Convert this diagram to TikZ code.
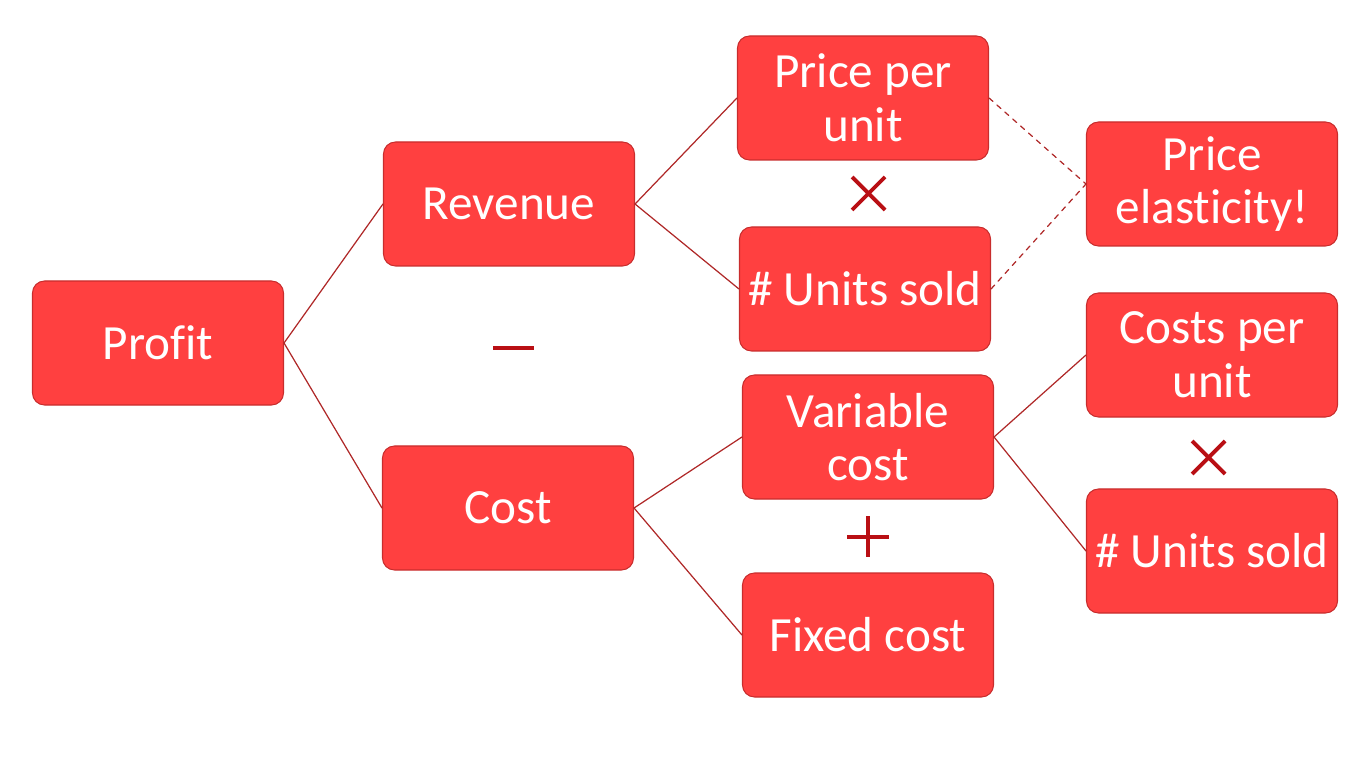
\documentclass[tikz,border=0pt]{standalone}
\usepackage{fontspec}
\setmainfont[Ligatures=NoCommon]{Carlito}

\definecolor{boxfill}{RGB}{255,64,64}
\definecolor{boxline}{RGB}{200,45,45}
\definecolor{linkred}{RGB}{175,40,40}
\definecolor{opred}{RGB}{185,15,20}

\begin{document}
\begin{tikzpicture}[x=0.2mm, y=-0.2mm, line cap=round, line join=round,
    factor/.style={draw=boxline, line width=0.6pt, fill=boxfill, rounded corners=2.4mm,
      minimum width=50.2mm, minimum height=24.8mm, inner sep=0pt, align=center,
      text=white, font=\fontsize{28}{30.5}\selectfont},
    link/.style={draw=linkred, line width=0.7pt},
    opline/.style={draw=opred, line width=2.2pt, line cap=butt}]
  \useasboundingbox (0,0) rectangle (1363,765);
  % Left column.
  \node[factor] (profit) at (158,343) {Profit};
  % Second column.
  \node[factor] (revenue) at (509,204) {Revenue};
  \node[factor] (cost) at (508,508) {Cost};
  % Third column.
  \node[factor] (price) at (863,98) {Price per\\unit};
  \node[factor] (units) at (865,289) {\# Units sold};
  \node[factor] (varcost) at (868,437) {Variable\\cost};
  \node[factor] (fixcost) at (868,635) {Fixed cost};
  % Right column.
  \node[factor] (elastic) at (1212,184) {Price\\elasticity!};
  \node[factor] (unitcost) at (1212,355) {Costs per\\unit};
  \node[factor] (units2) at (1212,551) {\# Units sold};
  % Operators between the factors.
  \draw[opline] (493,348) -- (534,348);
  \draw[opline] (852,177) -- (885,210) (852,210) -- (885,177);
  \draw[opline] (847,537) -- (889,537) (868,516) -- (868,557);
  \draw[opline] (1192,441) -- (1225,474) (1192,474) -- (1225,441);
  % Connectors.
  \draw[link] (profit.east) -- (revenue.west);
  \draw[link] (profit.east) -- (cost.west);
  \draw[link] (revenue.east) -- (price.west);
  \draw[link] (revenue.east) -- (units.west);
  \draw[link] (cost.east) -- (varcost.west);
  \draw[link] (cost.east) -- (fixcost.west);
  \draw[link] (varcost.east) -- (unitcost.west);
  \draw[link] (varcost.east) -- (units2.west);
  \draw[link, dashed] (price.east) -- (elastic.west);
  \draw[link, dashed] (units.east) -- (elastic.west);
\end{tikzpicture}
\end{document}
